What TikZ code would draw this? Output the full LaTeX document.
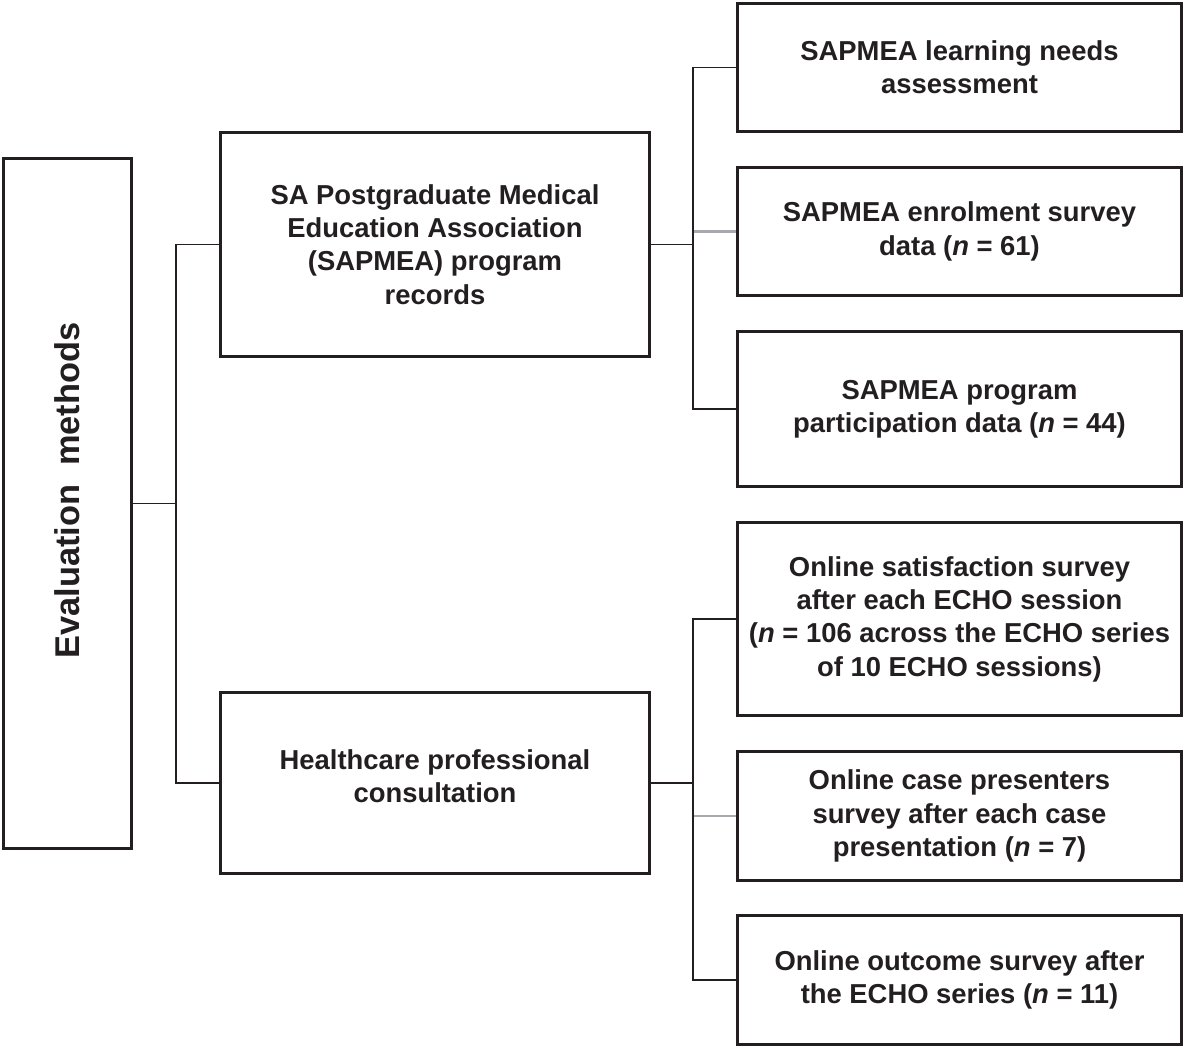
\documentclass[tikz,border=0pt]{standalone}
\usepackage{fontspec}
\setmainfont{Liberation Sans}
\definecolor{ink}{HTML}{231F20}
\definecolor{lgray}{HTML}{A7A9AC}
\begin{document}
\begin{tikzpicture}[x=1bp,y=-1bp,
  box/.style={draw=ink, line width=3bp, fill=white, inner sep=0pt, align=center,
    text=ink, font=\bfseries\fontsize{27.5}{33.5}\selectfont},
  conn/.style={draw=ink, line width=1.8bp},
  gconn/.style={draw=lgray, line width=2.8bp}]
\useasboundingbox (0,0) rectangle (1184,1048);
% boxes (outer extents minus line width)
\node[box, minimum width=128bp, minimum height=690bp] (ev) at (67.5,503.5)
  {\rotatebox{90}{\hspace*{26bp}\fontsize{34.5}{40}\selectfont Evaluation\ \ methods}};
\node[box, minimum width=429bp, minimum height=224bp] (m1) at (435,244.5)
  {SA Postgraduate Medical\\Education Association\\(SAPMEA) program\\records};
\node[box, minimum width=429bp, minimum height=181bp] (m2) at (435,783)
  {\raisebox{0pt}[\height][\dimexpr\depth+7bp\relax]{\begin{tabular}{@{}c@{}}Healthcare professional\\consultation\end{tabular}}};
\node[box, minimum width=444bp, minimum height=128bp] (r1) at (959.5,67.5)
  {SAPMEA learning needs\\assessment};
\node[box, minimum width=444bp, minimum height=128bp] (r2) at (959.5,231.5)
  {SAPMEA enrolment survey\\data (\textit{n} = 61)};
\node[box, minimum width=444bp, minimum height=155bp] (r3) at (959.5,409)
  {SAPMEA program\\participation data (\textit{n} = 44)};
\node[box, minimum width=444bp, minimum height=193bp] (r4) at (959.5,619)
  {Online satisfaction survey\\after each ECHO session\\(\textit{n} = 106 across the ECHO series\\of 10 ECHO sessions)};
\node[box, minimum width=444bp, minimum height=129bp] (r5) at (959.5,816)
  {Online case presenters\\survey after each case\\presentation (\textit{n} = 7)};
\node[box, minimum width=444bp, minimum height=129bp] (r6) at (959.5,980)
  {Online outcome survey after\\the ECHO series (\textit{n} = 11)};
% junctions
\coordinate (j1) at (176,503.5);
\coordinate (j2) at (693,244.5);
\coordinate (j3) at (693,783);
% connectors
\draw[gconn] (r2.west) -| (j2);
\draw[gconn] (r5.west) -| (j3);
\draw[conn] (ev.east) -- (j1);
\draw[conn] (m1.west) -| (j1);
\draw[conn] (m2.west) -| (j1);
\draw[conn] (m1.east) -- (j2);
\draw[conn] (r1.west) -| (j2);
\draw[conn] (r3.west) -| (j2);
\draw[conn] (m2.east) -- (j3);
\draw[conn] (r4.west) -| (j3);
\draw[conn] (r6.west) -| (j3);
\end{tikzpicture}
\end{document}
